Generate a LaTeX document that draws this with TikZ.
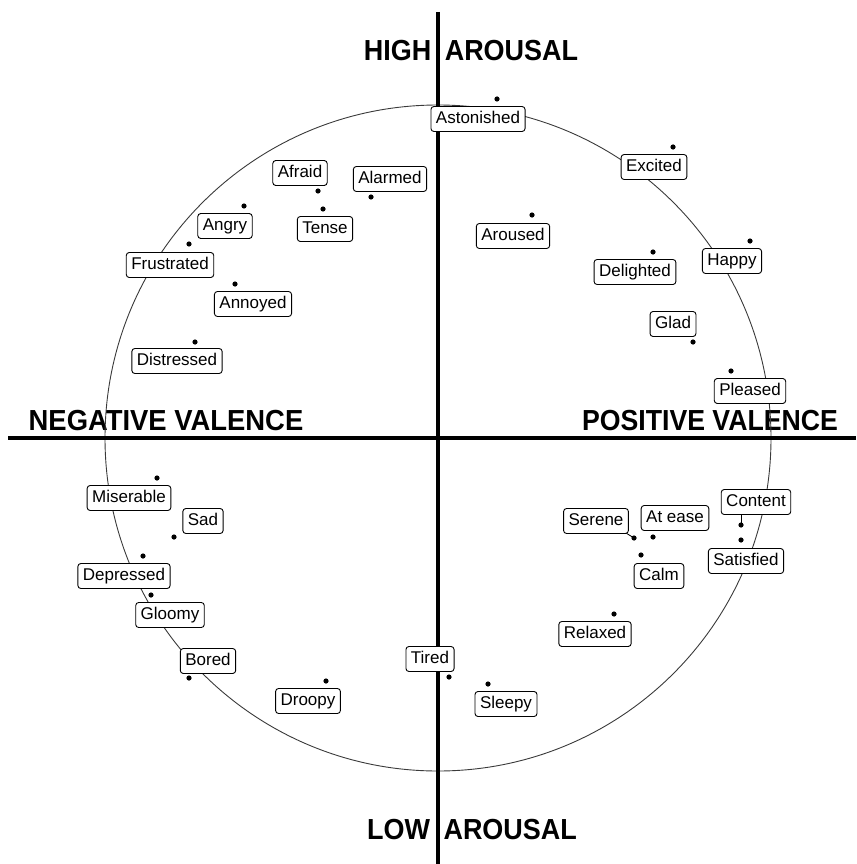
\documentclass[tikz,border=0pt]{standalone}
\usepackage{fontspec}
\setmainfont{Liberation Sans}
\usepackage{tikz}
\usetikzlibrary{positioning, calc}
\definecolor{ringc}{HTML}{3A3A3A}
% one mood word: dot at #2, boxed label at #3
\newcommand{\mood}[4]{%
  \coordinate (#1-pt) at #2;
  \fill (#1-pt) circle (2.6pt);
  \node[tag] (#1) at #3 {#4};
}

\begin{document}
\begin{tikzpicture}[x=1pt, y=-1pt,
      tag/.style={draw, fill=white, rounded corners=3pt, line width=0.9pt,
        font=\fontsize{17}{17}\selectfont, text height=12.2pt,
        text depth=3.6pt, inner xsep=5pt, inner ysep=4.6pt},
      axis/.style={line width=4pt},
      pole/.style={font=\fontsize{29}{29}\selectfont\bfseries}]
    \useasboundingbox (0,0) rectangle (856,864);
    \coordinate (o) at (438,438);
    \coordinate (top) at (438,12);
    \coordinate (bot) at (438,864);
    \coordinate (lft) at (8,438);
    \coordinate (rgt) at (856,438);

    % axis names
    \node[pole] (high) at (471,51) {\scalebox{0.93}[1]{HIGH\hspace{0.5em}AROUSAL}};
    \node[pole] (low) at (472,830) {\scalebox{0.93}[1]{LOW\hspace{0.5em}AROUSAL}};
    \node[pole] (neg) at (166,421) {\scalebox{0.945}[1]{NEGATIVE VALENCE}};
    \node[pole] (pos) at (710,421) {\scalebox{0.92}[1]{POSITIVE VALENCE}};

    \draw[ringc, line width=0.9pt] (o) circle (333pt);
    \draw[axis] (top) -- (bot);
    \draw[axis] (lft) -- (rgt);

    % high arousal, positive
    \mood{astonished}{(497,99)}{(478,119)}{Astonished}
    \mood{excited}{(673,147)}{(654,167)}{Excited}
    \mood{aroused}{(532,215)}{(513,236)}{Aroused}
    \mood{happy}{(750,241)}{(732,261)}{Happy}
    \mood{delighted}{(653,252)}{(635,272)}{Delighted}
    \mood{glad}{(693,342)}{(673,324)}{Glad}
    \mood{pleased}{(731,371)}{(750,391)}{Pleased}
    % high arousal, negative
    \mood{afraid}{(318,191)}{(300,173)}{Afraid}
    \mood{alarmed}{(371,197)}{(390,179)}{Alarmed}
    \mood{angry}{(244,206)}{(225,226)}{Angry}
    \mood{tense}{(323,209)}{(325,229)}{Tense}
    \mood{frustrated}{(189,244)}{(170,265)}{Frustrated}
    \mood{annoyed}{(235,284)}{(253,304)}{Annoyed}
    \mood{distressed}{(195,342)}{(177,361)}{Distressed}
    % low arousal, negative
    \mood{miserable}{(157,478)}{(129,498)}{Miserable}
    \mood{sad}{(174,537)}{(203,521)}{Sad}
    \mood{depressed}{(143,556)}{(124,576)}{Depressed}
    \mood{gloomy}{(151,595)}{(170,615)}{Gloomy}
    \mood{bored}{(189,678)}{(208,661)}{Bored}
    \mood{droopy}{(326,681)}{(308,701)}{Droopy}
    % low arousal, positive
    \draw[line width=0.8pt] (741,513) -- (741,525);
    \draw[line width=0.8pt] (626,533) -- (634,538);
    \mood{content}{(741,525)}{(756,502)}{Content}
    \mood{serene}{(634,538)}{(596,521)}{Serene}
    \mood{atease}{(653,537)}{(675,518)}{At ease}
    \mood{satisfied}{(741,540)}{(746,561)}{Satisfied}
    \mood{calm}{(641,555)}{(659,576)}{Calm}
    \mood{relaxed}{(614,614)}{(595,634)}{Relaxed}
    \mood{tired}{(449,677)}{(430,659)}{Tired}
    \mood{sleepy}{(488,684)}{(506,704)}{Sleepy}
\end{tikzpicture}
\end{document}
